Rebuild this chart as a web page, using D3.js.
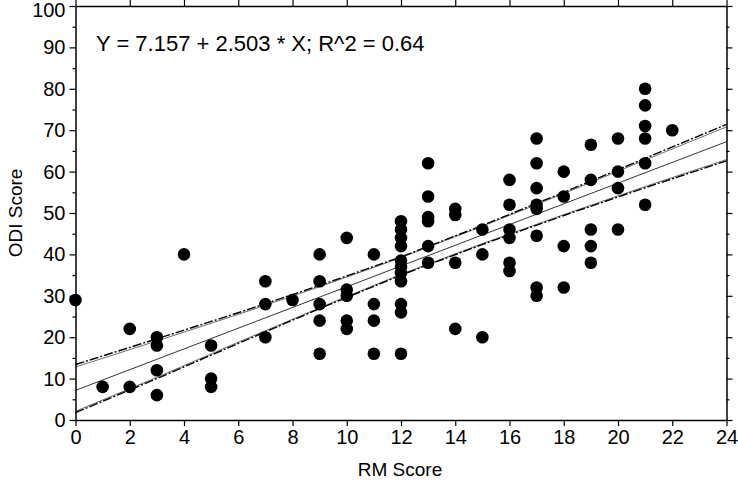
<!DOCTYPE html>
<html>
<head>
<meta charset="utf-8">
<script src="https://cdn.jsdelivr.net/npm/d3@7"></script>
<style>
  body { margin: 0; background: #fff; }
  text { font-family: "Liberation Sans", Arial, sans-serif; fill: #000; }
</style>
</head>
<body>
<script>
// RM score (x) and ODI score (y), one entry per subject
var rmScore = [0, 1, 2, 2, 3, 3, 3, 3, 4, 5, 5, 5, 7, 7, 7, 8,
  9, 9, 9, 9, 9, 10, 10, 10, 10, 10, 11, 11, 11, 11,
  12, 12, 12, 12, 12, 12, 12, 12, 12, 12, 12,
  13, 13, 13, 13, 13, 13, 14, 14, 14, 14, 15, 15, 15,
  16, 16, 16, 16, 16, 16, 17, 17, 17, 17, 17, 17, 17, 17,
  18, 18, 18, 18, 19, 19, 19, 19, 19, 20, 20, 20, 20,
  21, 21, 21, 21, 21, 21, 22];
var odiScore = [29, 8, 22, 8, 20, 18, 12, 6, 40, 18, 10, 8, 33.5, 28, 20, 29,
  40, 33.5, 28, 24, 16, 44, 31.5, 30, 24, 22, 40, 28, 24, 16,
  48, 46, 44, 42, 38.5, 37, 35.5, 33.5, 28, 26, 16,
  62, 54, 49, 48, 42, 38, 51, 49.5, 38, 22, 46, 40, 20,
  58, 52, 46, 44, 38, 36, 68, 62, 56, 52, 51, 44.5, 32, 30,
  60, 54, 42, 32, 66.5, 58, 46, 42, 38, 68, 60, 56, 46,
  80, 76, 71, 68, 62, 52, 70];

// regression Y = 7.157 + 2.503 * X
var intercept = 7.157, slope = 2.503, rSquared = 0.64;

// band lines
var bandX      = [0, 3, 6, 9, 12, 15, 18, 21, 24];
var upperDash  = [13.4, 19.6, 25.9, 32.5, 39.4, 47.0, 55.0, 63.2, 71.4];
var upperThin  = [12.8, 19.1, 25.5, 32.2, 39.2, 46.8, 54.7, 62.8, 70.8];
var lowerDash  = [1.8, 10.0, 18.5, 26.9, 35.0, 42.4, 49.4, 56.1, 62.6];
var lowerThin  = [2.1, 10.3, 18.8, 27.1, 35.2, 42.6, 49.6, 56.4, 62.9];

var xTicks = d3.range(0, 25, 2);
var yTicks = d3.range(0, 101, 10);
var yMinor = d3.range(5, 100, 10);

var W = 738, H = 484;
var margin = {top: 6, right: 11.5, bottom: 64, left: 75.5}
  , width = W - margin.left - margin.right
  , height = H - margin.top - margin.bottom;

var x = d3.scaleLinear().domain([0, 24]).range([0, width]);
var y = d3.scaleLinear().domain([0, 100]).range([height, 0]);

var svg = d3.select("body").append("svg")
    .attr("width", W).attr("height", H)
  .append("g")
    .attr("transform", "translate(" + margin.left + "," + margin.top + ")");

// band lines
function bandLine(vals) {
  return d3.line().x(function(d, i) { return x(bandX[i]); }).y(function(d) { return y(d); })(vals);
}
[upperThin, lowerThin].forEach(function(v) {
  svg.append("path").attr("d", bandLine(v))
    .attr("fill", "none").attr("stroke", "#333").attr("stroke-width", 0.7);
});
[upperDash, lowerDash].forEach(function(v) {
  svg.append("path").attr("d", bandLine(v))
    .attr("fill", "none").attr("stroke", "#000").attr("stroke-width", 1.4)
    .attr("stroke-dasharray", "9,2,2,2");
});

// fitted line
svg.append("line")
  .attr("x1", x(0)).attr("y1", y(intercept))
  .attr("x2", x(24)).attr("y2", y(intercept + slope * 24))
  .attr("stroke", "#000").attr("stroke-width", 0.8);

// points
svg.selectAll("circle.pt").data(rmScore).enter().append("circle")
  .attr("class", "pt")
  .attr("cx", function(d) { return x(d); })
  .attr("cy", function(d, i) { return y(odiScore[i]); })
  .attr("r", 6.3)
  .attr("fill", "#000");

// axes
var axisStyle = function(g) {
  g.select(".domain").attr("stroke-width", 1.5);
  g.selectAll(".tick line").attr("stroke-width", 1.2);
};

svg.append("g")
  .attr("transform", "translate(0," + height + ")")
  .call(d3.axisBottom(x).tickValues(xTicks).tickSize(6).tickPadding(4).tickSizeOuter(0))
  .call(axisStyle)
  .call(function(g) { g.selectAll("text").style("font-size", "20px"); });

svg.append("g")
  .call(d3.axisTop(x).tickValues(xTicks).tickSize(6).tickFormat("").tickSizeOuter(0))
  .call(axisStyle);

svg.append("g")
  .call(d3.axisLeft(y).tickValues(yTicks).tickSize(6).tickPadding(4).tickSizeOuter(0))
  .call(axisStyle)
  .call(function(g) {
    g.selectAll("text").style("font-size", "20px");
    // keep the top label inside the page
    g.selectAll(".tick").filter(function(d) { return d === 100; })
      .select("text").attr("dy", "0.5em");
  });

svg.append("g")
  .call(d3.axisLeft(y).tickValues(yMinor).tickSize(3).tickFormat(""))
  .call(function(g) { g.select(".domain").remove(); g.selectAll(".tick line").attr("stroke-width", 1.2); });

svg.append("g")
  .attr("transform", "translate(" + width + ",0)")
  .call(d3.axisRight(y).tickValues(yTicks).tickSize(6).tickFormat("").tickSizeOuter(0))
  .call(axisStyle);

svg.append("g")
  .attr("transform", "translate(" + width + ",0)")
  .call(d3.axisRight(y).tickValues(yMinor).tickSize(3).tickFormat(""))
  .call(function(g) { g.select(".domain").remove(); g.selectAll(".tick line").attr("stroke-width", 1.2); });

// titles
svg.append("text")
  .attr("x", width / 2 - 1).attr("y", height + 56)
  .attr("text-anchor", "middle").style("font-size", "19px")
  .text("RM Score");

svg.append("text")
  .attr("transform", "translate(" + (-54) + "," + (height / 2) + ") rotate(-90)")
  .attr("text-anchor", "middle").style("font-size", "19px")
  .text("ODI Score");

svg.append("text")
  .attr("x", 20.5).attr("y", 45)
  .style("font-size", "22px")
  .text("Y = " + intercept + " + " + slope + " * X; R^2 = " + rSquared);
</script>
</body>
</html>
